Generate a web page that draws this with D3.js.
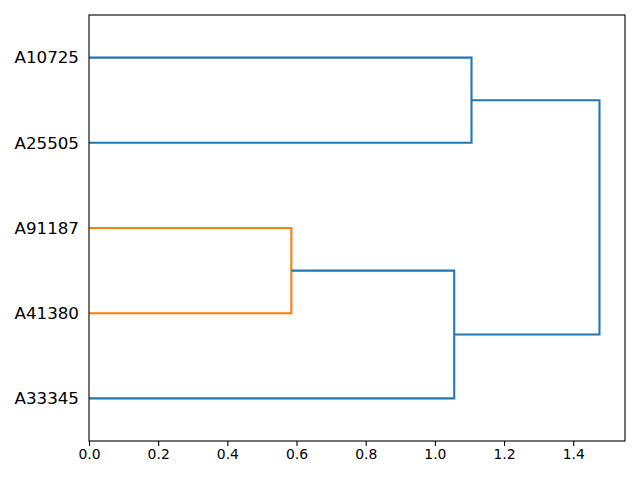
<!DOCTYPE html>
<html>
<head>
<meta charset="utf-8">
<script src="https://cdn.jsdelivr.net/npm/d3@7"></script>
<style>
  body { margin: 0; background: #fff; }
  text { font-family: "DejaVu Sans", sans-serif; fill: #000; }
</style>
</head>
<body>
<div id="chart"></div>
<script>
(function(d3) {
  // leaves, bottom to top
  var leaves = ["A33345", "A41380", "A91187", "A25505", "A10725"];

  // linkage: ids < 5 are leaves, 5+ are earlier merges
  var mergeLeft   = [2, 4, 0, 6];
  var mergeRight  = [1, 3, 5, 7];
  var mergeHeight = [0.585, 1.106, 1.056, 1.476];
  var mergeColor  = ["#ff7f0e", "#1f77b4", "#1f77b4", "#1f77b4"];

  var xTicks = [0.0, 0.2, 0.4, 0.6, 0.8, 1.0, 1.2, 1.4];

  var width = 640, height = 480;
  var left = 89, right = 625, top = 15, bottom = 441;

  var svg = d3.select("#chart").append("svg")
    .attr("width", width)
    .attr("height", height);

  var xScale = d3.scaleLinear()
    .domain([0, d3.max(mergeHeight) * 1.05])
    .range([left, right]);

  var yScale = d3.scaleLinear()
    .domain([0, leaves.length * 10])
    .range([bottom, top]);

  // position (in dendrogram units) and height for every node
  var pos = [], hgt = [];
  leaves.forEach(function(d, i) { pos.push(i * 10 + 5); hgt.push(0); });
  for (var i = 0; i < mergeLeft.length; i++) {
    var a = mergeLeft[i], b = mergeRight[i];
    pos.push((pos[a] + pos[b]) / 2);
    hgt.push(mergeHeight[i]);
  }

  var links = mergeLeft.map(function(a, i) {
    var b = mergeRight[i];
    return [[hgt[a], pos[a]], [mergeHeight[i], pos[a]],
            [mergeHeight[i], pos[b]], [hgt[b], pos[b]]];
  });

  var line = d3.line()
    .x(function(p) { return xScale(p[0]); })
    .y(function(p) { return yScale(p[1]); });

  svg.append("g").selectAll("path")
    .data(links)
    .enter()
    .append("path")
      .attr("d", line)
      .attr("fill", "none")
      .attr("stroke", function(d, i) { return mergeColor[i]; })
      .attr("stroke-width", 2.08);

  // frame
  svg.append("rect")
    .attr("x", left).attr("y", top)
    .attr("width", right - left).attr("height", bottom - top)
    .attr("fill", "none")
    .attr("stroke", "#000")
    .attr("stroke-width", 1.1);

  // x axis
  var xAxis = d3.axisBottom(xScale)
    .tickValues(xTicks)
    .tickFormat(d3.format(".1f"))
    .tickSize(4.9)
    .tickPadding(3.5);

  var gx = svg.append("g")
    .attr("transform", "translate(0," + bottom + ")")
    .call(xAxis);
  gx.select(".domain").remove();
  gx.selectAll("text")
    .attr("font-size", "13.9px")
    .attr("font-family", "DejaVu Sans, sans-serif");
  gx.selectAll("line").attr("stroke", "#000").attr("stroke-width", 1.1);

  // y axis (leaf labels, no tick marks)
  var yAxis = d3.axisLeft(yScale)
    .tickValues(pos.slice(0, leaves.length))
    .tickFormat(function(d, i) { return leaves[i]; })
    .tickSize(0)
    .tickPadding(10);

  var gy = svg.append("g")
    .attr("transform", "translate(" + left + ",0)")
    .call(yAxis);
  gy.select(".domain").remove();
  gy.selectAll("text")
    .attr("font-size", "16.7px")
    .attr("font-family", "DejaVu Sans, sans-serif");

})(window.d3);
</script>
</body>
</html>
